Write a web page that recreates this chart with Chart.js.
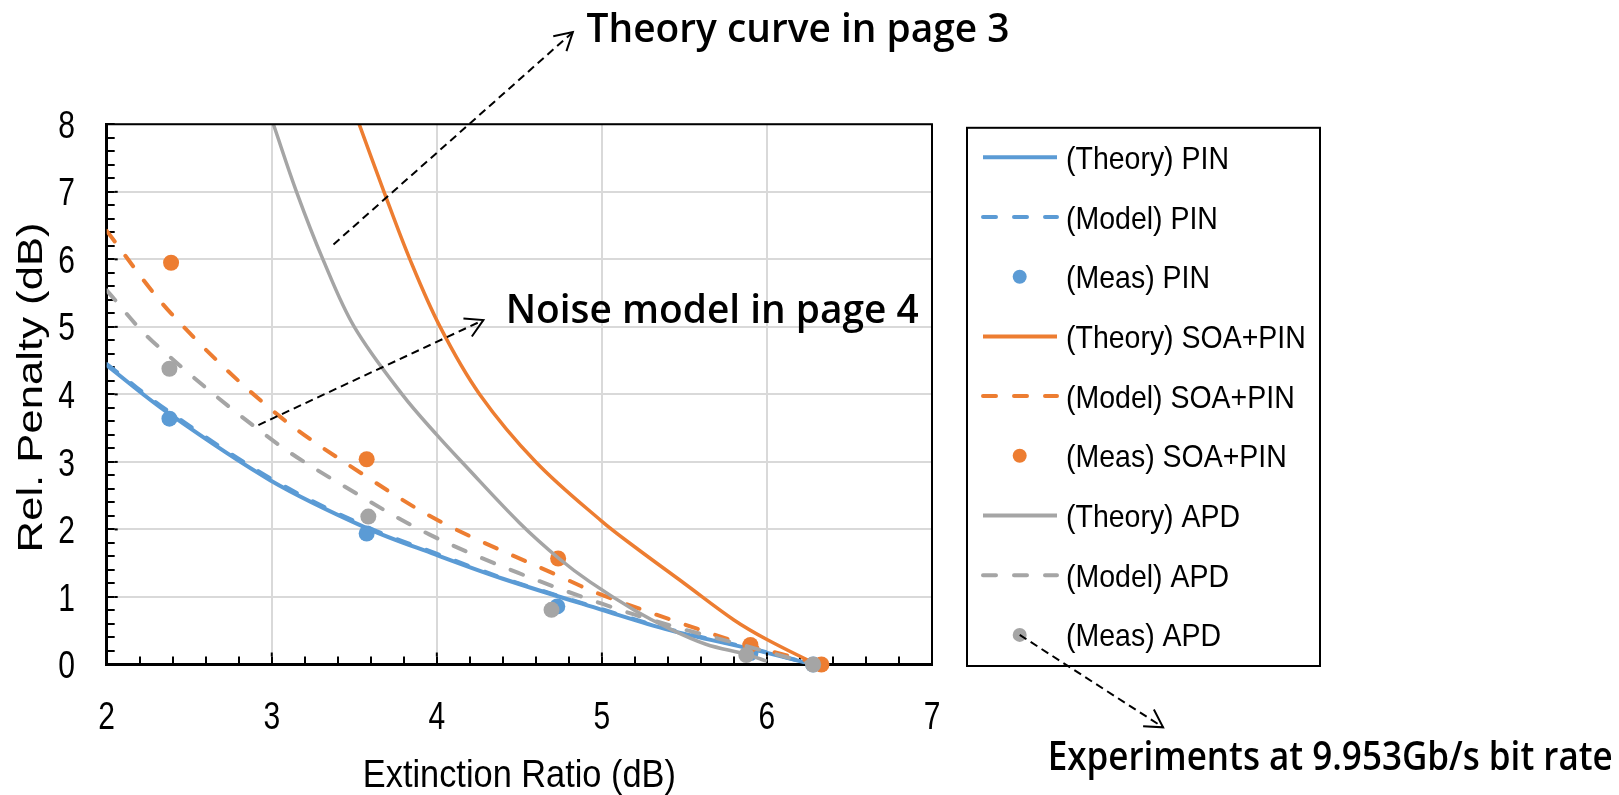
<!DOCTYPE html>
<html>
<head>
<meta charset="utf-8">
<script src="https://cdn.jsdelivr.net/npm/chart.js@4.4.1/dist/chart.umd.min.js"></script>
<style>
html, body { margin: 0; padding: 0; background: #fff; }
canvas { display: block; }
</style>
</head>
<body>
<canvas id="chart" width="1619" height="795"></canvas>
<script>
// relative penalty (dB) against extinction ratio (dB)
var pinTheoryX = [2, 2.363, 2.99, 3.575, 3.99, 4.4, 5.0, 5.41, 5.92, 6.28];
var pinTheoryY = [4.43, 3.74, 2.73, 2.02, 1.63, 1.27, 0.81, 0.51, 0.22, 0];
var pinModelX = [2, 2.363, 2.99, 3.575, 3.99, 4.4, 5.0, 5.41, 5.92, 6.28];
var pinModelY = [4.45, 3.77, 2.76, 2.04, 1.65, 1.28, 0.82, 0.52, 0.23, 0];
var pinMeasX = [2.38, 3.575, 4.73, 5.9, 6.28];
var pinMeasY = [3.64, 1.94, 0.86, 0.17, 0];

var soaTheoryX = [3.53, 3.68, 3.837, 4.02, 4.26, 4.6, 5.0, 5.2, 5.5, 5.8, 6.0, 6.3];
var soaTheoryY = [8, 7, 6, 5, 4, 3, 2.12, 1.74, 1.2, 0.66, 0.37, 0];
var soaModelX = [2, 2.39, 3, 3.575, 4.035, 4.75, 5.0, 5.66, 5.9, 6.33];
var soaModelY = [6.42, 5.2, 3.77, 2.78, 2.1, 1.3, 1.03, 0.46, 0.28, 0];
var soaMeasX = [2.39, 3.575, 4.735, 5.9, 6.33];
var soaMeasY = [5.95, 3.04, 1.57, 0.29, 0];

var apdTheoryX = [3.01, 3.15, 3.31, 3.5, 3.79, 4.0, 4.17, 4.5, 4.74, 4.93, 5.2, 5.41, 5.63, 5.875, 6.0];
var apdTheoryY = [8, 7, 6, 5, 4, 3.4, 2.95, 2.1, 1.57, 1.22, 0.8, 0.53, 0.3, 0.15, 0.05];
var apdModelX = [2, 2.28, 3, 3.5, 3.96, 4.49, 5.0, 5.41, 5.82, 6.28];
var apdModelY = [5.54, 4.78, 3.33, 2.55, 1.92, 1.36, 0.9, 0.58, 0.31, 0];
var apdMeasX = [2.38, 3.585, 4.695, 5.875, 6.28];
var apdMeasY = [4.38, 2.19, 0.81, 0.14, 0];

var seriesLabels = [
	'(Theory) PIN', '(Model) PIN', '(Meas) PIN',
	'(Theory) SOA+PIN', '(Model) SOA+PIN', '(Meas) SOA+PIN',
	'(Theory) APD', '(Model) APD', '(Meas) APD'
];

var xTitle = 'Extinction Ratio (dB)';
var yTitle = 'Rel. Penalty (dB)';

// callouts, anchored in data units
var notes = [
	{text: 'Theory curve in page 3', x: 4.907, y: 9.22, width: 423},
	{text: 'Noise model in page 4', x: 4.417, y: 5.05, width: 413},
	{text: 'Experiments at 9.953Gb/s bit rate', x: 7.701, y: -1.562, width: 565}
];
var arrows = [
	{x1: 3.374, y1: 6.22, x2: 4.824, y2: 9.365},
	{x1: 2.919, y1: 3.546, x2: 4.282, y2: 5.10},
	{fromLegend: 8, x2: 8.40, y2: -0.93}
];

var BLUE = '#5B9BD5';
var ORANGE = '#ED7D31';
var GREY = '#A5A5A5';
var axisFont = "'Liberation Sans', Arial, sans-serif";
var noteFont = "'Open Sans', 'Noto Sans', sans-serif";

function toPoints(xs, ys) {
	var pts = [];
	for (var i = 0; i < xs.length; i++) {
		pts.push({x: xs[i], y: ys[i]});
	}
	return pts;
}

function isWhole(v) {
	return Math.abs(v - Math.round(v)) < 1e-6;
}

function theory(i, xs, ys, color, width) {
	return {
		label: seriesLabels[i], data: toPoints(xs, ys), order: 20 - i,
		showLine: true, borderColor: color, backgroundColor: color,
		borderWidth: width, pointRadius: 0, tension: 0.35
	};
}

function model(i, xs, ys, color) {
	return {
		label: seriesLabels[i], data: toPoints(xs, ys), order: 20 - i,
		showLine: true, borderColor: color, backgroundColor: color,
		borderWidth: 4, borderDash: [13, 18], borderCapStyle: 'round',
		pointRadius: 0, tension: 0.35
	};
}

function meas(i, xs, ys, color) {
	return {
		label: seriesLabels[i], data: toPoints(xs, ys), order: 20 - i,
		showLine: false, borderColor: color, backgroundColor: color,
		pointRadius: 8, pointHoverRadius: 8, pointBorderWidth: 0, clip: false
	};
}

function gridColor(ctx) {
	if (!ctx.tick) {
		return 'rgba(0,0,0,0)';
	}
	return isWhole(ctx.tick.value) ? '#D9D9D9' : 'rgba(0,0,0,0)';
}

// the original figure is stretched a little vertically, so its text is tall and narrow
function drawText(ctx, text, x, y, size, sx, align, angle) {
	ctx.save();
	ctx.translate(x, y);
	if (angle) {
		ctx.rotate(angle);
	}
	ctx.scale(sx, 1);
	ctx.font = size + 'px ' + axisFont;
	ctx.fillStyle = '#000';
	ctx.textAlign = align;
	ctx.textBaseline = 'alphabetic';
	ctx.fillText(text, 0, 0);
	ctx.restore();
}

function legendBox(chart) {
	var area = chart.chartArea;
	var left = area.right + 35;
	return {left: left, top: area.top + 3.5, right: left + 353, bottom: area.bottom + 1.5, row0: area.top + 33, step: 59.7};
}

var axisTextPlugin = {
	id: 'axisText',
	afterDraw: function(chart) {
		var ctx = chart.ctx;
		var a = chart.chartArea;
		var xs = chart.scales.x;
		var ys = chart.scales.y;

		// frame on top and right
		ctx.save();
		ctx.strokeStyle = '#000';
		ctx.lineWidth = 2;
		ctx.beginPath();
		ctx.moveTo(a.left, a.top);
		ctx.lineTo(a.right, a.top);
		ctx.lineTo(a.right, a.bottom);
		ctx.stroke();

		// longer marks on whole numbers
		xs.ticks.forEach(function(t) {
			if (isWhole(t.value) && t.value > xs.min && t.value < xs.max) {
				var px = xs.getPixelForValue(t.value);
				ctx.beginPath();
				ctx.moveTo(px, a.bottom - 8);
				ctx.lineTo(px, a.bottom - 12);
				ctx.stroke();
			}
		});
		ys.ticks.forEach(function(t) {
			if (isWhole(t.value) && t.value > ys.min && t.value < ys.max) {
				var py = ys.getPixelForValue(t.value);
				ctx.beginPath();
				ctx.moveTo(a.left + 8, py);
				ctx.lineTo(a.left + 11, py);
				ctx.stroke();
			}
		});
		ctx.restore();

		xs.ticks.forEach(function(t) {
			if (isWhole(t.value)) {
				drawText(ctx, String(Math.round(t.value)), xs.getPixelForValue(t.value), a.bottom + 64, 38, 0.79, 'center');
			}
		});
		ys.ticks.forEach(function(t) {
			if (isWhole(t.value)) {
				drawText(ctx, String(Math.round(t.value)), a.left - 31.7, ys.getPixelForValue(t.value) + 13.6, 38, 0.79, 'right');
			}
		});

		// axis titles
		ctx.save();
		ctx.font = '39.5px ' + axisFont;
		var wx = ctx.measureText(xTitle).width;
		ctx.font = '35px ' + axisFont;
		var wy = ctx.measureText(yTitle).width;
		ctx.restore();
		drawText(ctx, xTitle, (a.left + a.right) / 2, a.bottom + 122, 39.5, 313 / wx, 'center');
		drawText(ctx, yTitle, a.left - 65, (a.top + a.bottom) / 2 - 7, 35, 330 / wy, 'center', -Math.PI / 2);
	}
};

var legendPlugin = {
	id: 'boxLegend',
	afterDraw: function(chart) {
		var ctx = chart.ctx;
		var box = legendBox(chart);
		ctx.save();
		ctx.strokeStyle = '#000';
		ctx.lineWidth = 2;
		ctx.strokeRect(box.left, box.top, box.right - box.left, box.bottom - box.top);
		chart.data.datasets.forEach(function(ds, i) {
			var y = box.row0 + i * box.step;
			if (ds.showLine) {
				ctx.save();
				ctx.strokeStyle = ds.borderColor;
				ctx.lineWidth = 4;
				ctx.lineCap = ds.borderDash ? 'round' : 'butt';
				ctx.setLineDash(ds.borderDash || []);
				ctx.beginPath();
				ctx.moveTo(box.left + 16, y);
				ctx.lineTo(box.left + 90, y);
				ctx.stroke();
				ctx.restore();
			} else {
				ctx.fillStyle = ds.backgroundColor;
				ctx.beginPath();
				ctx.arc(box.left + 52.7, y, 7, 0, Math.PI * 2);
				ctx.fill();
			}
			drawText(ctx, ds.label, box.left + 99, y + 11.5, 32, 0.89, 'left');
		});
		ctx.restore();
	}
};

function drawArrow(ctx, x1, y1, x2, y2) {
	var a = Math.atan2(y1 - y2, x1 - x2);
	ctx.save();
	ctx.strokeStyle = '#000';
	ctx.lineWidth = 2;
	ctx.setLineDash([8, 5]);
	ctx.beginPath();
	ctx.moveTo(x1, y1);
	ctx.lineTo(x2, y2);
	ctx.stroke();
	ctx.setLineDash([]);
	ctx.beginPath();
	ctx.moveTo(x2 + 20 * Math.cos(a - 0.52), y2 + 20 * Math.sin(a - 0.52));
	ctx.lineTo(x2, y2);
	ctx.lineTo(x2 + 20 * Math.cos(a + 0.52), y2 + 20 * Math.sin(a + 0.52));
	ctx.stroke();
	ctx.restore();
}

var notesPlugin = {
	id: 'notes',
	afterDraw: function(chart) {
		var ctx = chart.ctx;
		var xs = chart.scales.x;
		var ys = chart.scales.y;
		var box = legendBox(chart);
		arrows.forEach(function(ar) {
			var x1, y1;
			if (ar.fromLegend !== undefined) {
				x1 = box.left + 52.7;
				y1 = box.row0 + ar.fromLegend * box.step;
			} else {
				x1 = xs.getPixelForValue(ar.x1);
				y1 = ys.getPixelForValue(ar.y1);
			}
			drawArrow(ctx, x1, y1, xs.getPixelForValue(ar.x2), ys.getPixelForValue(ar.y2));
		});
		notes.forEach(function(n) {
			ctx.save();
			ctx.font = '600 40px ' + noteFont;
			ctx.fillStyle = '#000';
			ctx.textBaseline = 'alphabetic';
			var w = ctx.measureText(n.text).width;
			ctx.translate(xs.getPixelForValue(n.x), ys.getPixelForValue(n.y));
			ctx.scale(n.width / w, 1);
			ctx.fillText(n.text, 0, 0);
			ctx.restore();
		});
	}
};

var datasets = [
	theory(0, pinTheoryX, pinTheoryY, BLUE, 4),
	model(1, pinModelX, pinModelY, BLUE),
	meas(2, pinMeasX, pinMeasY, BLUE),
	theory(3, soaTheoryX, soaTheoryY, ORANGE, 3.5),
	model(4, soaModelX, soaModelY, ORANGE),
	meas(5, soaMeasX, soaMeasY, ORANGE),
	theory(6, apdTheoryX, apdTheoryY, GREY, 3.5),
	model(7, apdModelX, apdModelY, GREY),
	meas(8, apdMeasX, apdMeasY, GREY)
];

var axisGrid = {color: gridColor, lineWidth: 2, tickColor: '#000', tickLength: -8, tickWidth: 2};

var ctx = document.getElementById('chart').getContext('2d');
new Chart(ctx, {
	type: 'scatter',
	data: {datasets: datasets},
	options: {
		responsive: false,
		animation: false,
		events: [],
		layout: {padding: {left: 0, top: 124.3, right: 687, bottom: 0}},
		plugins: {legend: {display: false}, tooltip: {enabled: false}},
		scales: {
			x: {
				type: 'linear', min: 2, max: 7,
				afterFit: function(s) { s.height = 130.5; },
				border: {color: '#000', width: 3},
				grid: axisGrid,
				ticks: {stepSize: 0.2, autoSkip: false, maxRotation: 0, display: false},
				title: {display: false, text: xTitle}
			},
			y: {
				type: 'linear', min: 0, max: 8,
				afterFit: function(s) { s.width = 106.7; },
				border: {color: '#000', width: 3},
				grid: axisGrid,
				ticks: {stepSize: 0.2, autoSkip: false, display: false},
				title: {display: false, text: yTitle}
			}
		}
	},
	plugins: [axisTextPlugin, legendPlugin, notesPlugin]
});
</script>
</body>
</html>
